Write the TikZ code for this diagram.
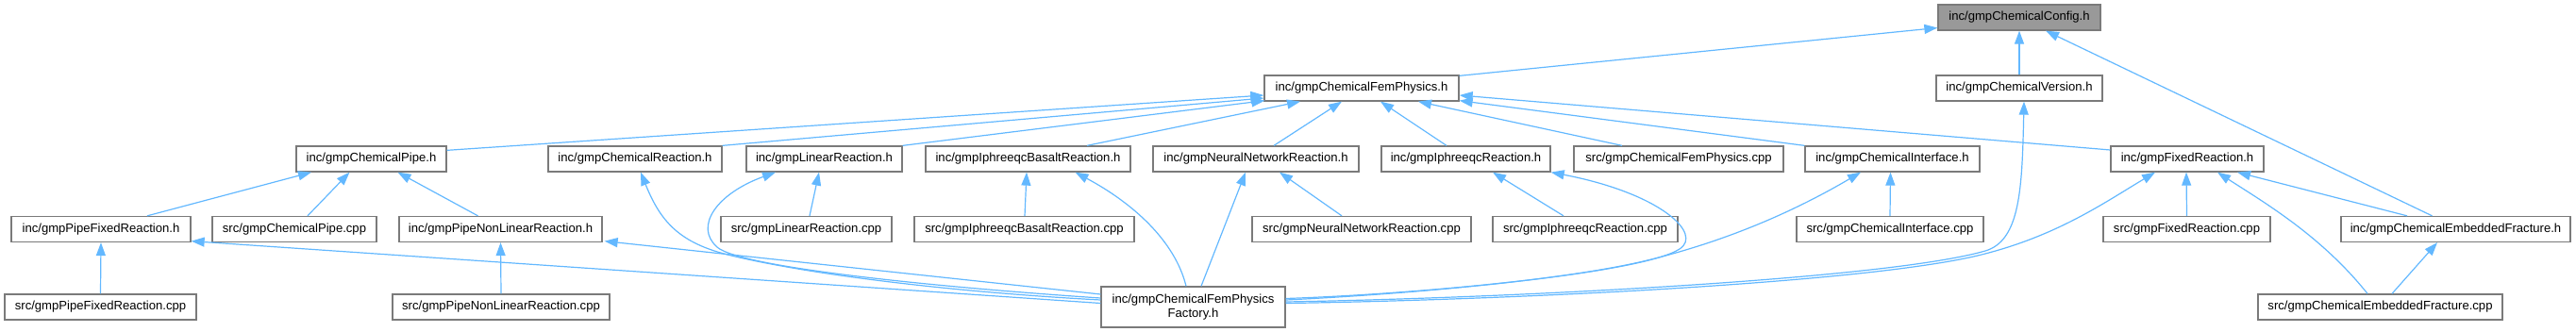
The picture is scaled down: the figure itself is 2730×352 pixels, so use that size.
\documentclass[tikz,border=0pt]{standalone}
\usepackage{fontspec}
\setmainfont{Liberation Sans}
\usetikzlibrary{arrows.meta,calc}
\definecolor{edgeblue}{HTML}{63B8FF}
\definecolor{boxgray}{HTML}{7A7A7A}
\definecolor{rootfill}{HTML}{999999}
\tikzset{
  box/.style={draw=boxgray, fill=white, line width=1.3pt, minimum height=27pt,
    inner sep=0pt, align=center, font=\fontsize{13.1}{15.5}\selectfont},
  rootbox/.style={box, fill=rootfill},
  edge/.style={draw=edgeblue, line width=1.2pt, {Triangle[length=14pt,width=10pt]}-}
}
\begin{document}
\begin{tikzpicture}[x=1pt,y=-1pt]
\useasboundingbox (0,0) rectangle (2730,352);
% row 0
\node[rootbox, minimum width=172pt] (config) at (2140,18.5) {inc/gmpChemicalConfig.h};
% row 1
\node[box, minimum width=206pt] (femphys) at (1443,93.5) {inc/gmpChemicalFemPhysics.h};
\node[box, minimum width=176pt] (version) at (2140,93.5) {inc/gmpChemicalVersion.h};
% row 2
\node[box, minimum width=159pt] (pipeh) at (393.5,168.5) {inc/gmpChemicalPipe.h};
\node[box, minimum width=184pt] (chemreac) at (673,168.5) {inc/gmpChemicalReaction.h};
\node[box, minimum width=165pt] (linreac) at (873.5,168.5) {inc/gmpLinearReaction.h};
\node[box, minimum width=217pt] (basalt) at (1089.5,168.5) {inc/gmpIphreeqcBasaltReaction.h};
\node[box, minimum width=218pt] (neural) at (1331,168.5) {inc/gmpNeuralNetworkReaction.h};
\node[box, minimum width=179pt] (iphreeqc) at (1553.5,168.5) {inc/gmpIphreeqcReaction.h};
\node[box, minimum width=222pt] (femcpp) at (1779,168.5) {src/gmpChemicalFemPhysics.cpp};
\node[box, minimum width=185pt] (interface) at (2005.5,168.5) {inc/gmpChemicalInterface.h};
\node[box, minimum width=162pt] (fixed) at (2318,168.5) {inc/gmpFixedReaction.h};
% row 3
\node[box, minimum width=190pt] (pipefixed) at (107,243) {inc/gmpPipeFixedReaction.h};
\node[box, minimum width=174pt] (pipecpp) at (312,243) {src/gmpChemicalPipe.cpp};
\node[box, minimum width=215pt] (pipenonlin) at (530.5,243) {inc/gmpPipeNonLinearReaction.h};
\node[box, minimum width=181pt] (lincpp) at (854.5,243) {src/gmpLinearReaction.cpp};
\node[box, minimum width=233pt] (basaltcpp) at (1085.5,243) {src/gmpIphreeqcBasaltReaction.cpp};
\node[box, minimum width=232pt] (neuralcpp) at (1443,243) {src/gmpNeuralNetworkReaction.cpp};
\node[box, minimum width=196pt] (iphreeqccpp) at (1680,243) {src/gmpIphreeqcReaction.cpp};
\node[box, minimum width=198pt] (interfacecpp) at (2003,243) {src/gmpChemicalInterface.cpp};
\node[box, minimum width=177pt] (fixedcpp) at (2317.5,243) {src/gmpFixedReaction.cpp};
\node[box, minimum width=243pt] (embfrac) at (2602.5,243) {inc/gmpChemicalEmbeddedFracture.h};
% row 4
\node[box, minimum width=203pt] (pipefixedcpp) at (106.5,325.5) {src/gmpPipeFixedReaction.cpp};
\node[box, minimum width=230pt] (pipenonlincpp) at (531,325.5) {src/gmpPipeNonLinearReaction.cpp};
\node[box, minimum width=195pt, minimum height=43pt] (factory) at (1264.5,325.5) {inc/gmpChemicalFemPhysics\\Factory.h};
\node[box, minimum width=259pt] (embfraccpp) at (2522.5,325.5) {src/gmpChemicalEmbeddedFracture.cpp};

% edges into config
\draw[edge] ($(config.west)+(0,11)$) -- ($(femphys.north east)+(0,1)$);
\draw[edge] (config.south) -- (version.north);
\draw[edge] ($(config.south)+(28,0)$) -- ($(embfrac.north)+(-25,0)$);
% edges into femphys
\draw[edge] ($(femphys.west)+(0,7.5)$) -- ($(pipeh.north east)+(0,5)$);
\draw[edge] ($(femphys.west)+(0,10.5)$) -- (chemreac.north east);
\draw[edge] ($(femphys.south west)+(1,-1)$) -- (linreac.north east);
\draw[edge] ($(femphys.south)+(-65,0)$) -- ($(basalt.north)+(62.5,0)$);
\draw[edge] ($(femphys.south)+(-21,0)$) -- ($(neural.north)+(19,0)$);
\draw[edge] ($(femphys.south)+(20,0)$) -- ($(iphreeqc.north)+(-20.5,0)$);
\draw[edge] ($(femphys.south)+(60,0)$) -- ($(femcpp.north)+(-60,0)$);
\draw[edge] ($(femphys.south east)+(0,-1)$) -- (interface.north west);
\draw[edge] ($(femphys.east)+(0,7.5)$) -- ($(fixed.west)+(0,-9.5)$);
% version
\draw[edge] ($(version.south)+(5,0)$) .. controls (2143,200) and (2141,255) .. (2104,266)
  .. controls (2000,296) and (1600,316) .. ($(factory.east)+(0,-5.5)$);
% pipe
\draw[edge] ($(pipeh.south)+(-63.5,0)$) -- ($(pipefixed.north)+(49,0)$);
\draw[edge] ($(pipeh.south)+(-23,0)$) -- ($(pipecpp.north)+(14,0)$);
\draw[edge] ($(pipeh.south)+(28,0)$) -- ($(pipenonlin.north)+(-24,0)$);
% chemical reaction
\draw[edge] ($(chemreac.south)+(6,0)$) .. controls (700,235) and (720,258) .. (775,271)
  .. controls (880,296) and (1050,312) .. ($(factory.west)+(0,-7.5)$);
% linear reaction
\draw[edge] ($(linreac.south)+(-5.5,0)$) -- ($(lincpp.north)+(3.5,0)$);
\draw[edge] ($(linreac.south)+(-51.5,0)$) .. controls (760,205) and (735,240) .. (760,262)
  .. controls (785,284) and (1000,305) .. ($(factory.west)+(0,-9.5)$);
% basalt
\draw[edge] ($(basalt.south)+(-1.5,0)$) -- ($(basaltcpp.north)+(0.5,0)$);
\draw[edge] ($(basalt.south)+(50,0)$) .. controls (1200,215) and (1245,255) .. ($(factory.north)+(-7.5,0)$);
% neural
\draw[edge] ($(neural.south)+(25,0)$) -- ($(neuralcpp.north)+(-21,0)$);
\draw[edge] ($(neural.south)+(-11,0)$) -- ($(factory.north)+(8.5,0)$);
% iphreeqc
\draw[edge] ($(iphreeqc.south)+(28.5,0)$) -- ($(iphreeqccpp.north)+(-23,0)$);
\draw[edge] (iphreeqc.south east) .. controls (1760,205) and (1805,248) .. (1780,264)
  .. controls (1740,290) and (1500,312) .. ($(factory.east)+(0,-9)$);
% interface
\draw[edge] ($(interface.south)+(-2,0)$) -- (interfacecpp.north);
\draw[edge] ($(interface.south)+(-33.5,0)$) .. controls (1900,225) and (1830,255) .. (1750,275)
  .. controls (1650,300) and (1450,314) .. ($(factory.east)+(0,-7.5)$);
% fixed
\draw[edge] ($(fixed.south)+(-1,0)$) -- (fixedcpp.north);
\draw[edge] ($(fixed.south)+(53,0)$) -- ($(embfrac.north)+(-51.5,0)$);
\draw[edge] ($(fixed.south)+(32,0)$) .. controls (2400,215) and (2460,250) .. ($(embfraccpp.north)+(-13.5,0)$);
\draw[edge] ($(fixed.south)+(-34,0)$) .. controls (2230,215) and (2180,250) .. (2100,270)
  .. controls (1980,300) and (1600,318) .. ($(factory.east)+(0,-4)$);
% pipe fixed / nonlinear
\draw[edge] (pipefixed.south) -- (pipefixedcpp.north);
\draw[edge] ($(pipefixed.south east)+(0,-1.5)$) -- ($(factory.west)+(0,-4)$);
\draw[edge] (pipenonlin.south) -- (pipenonlincpp.north);
\draw[edge] ($(pipenonlin.south east)+(2,-1.5)$) -- ($(factory.west)+(0,-13.5)$);
% embedded fracture
\draw[edge] ($(embfrac.south)+(-19.5,0)$) -- ($(embfraccpp.north)+(12.5,0)$);
\end{tikzpicture}
\end{document}
